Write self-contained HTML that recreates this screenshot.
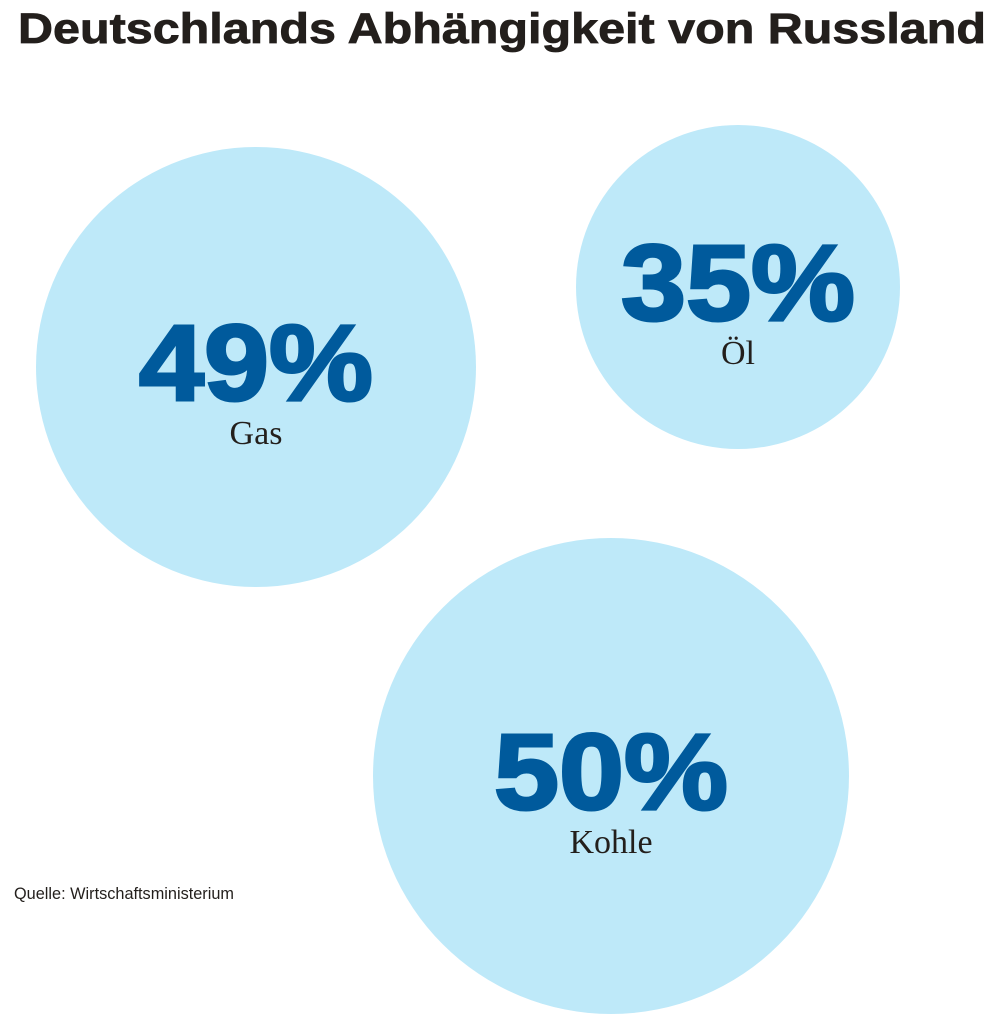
<!DOCTYPE html>
<html><head><meta charset="utf-8"><style>
html,body{margin:0;padding:0;background:#fff;width:1000px;height:1022px;overflow:hidden}
</style></head><body>
<svg width="1000" height="1022" viewBox="0 0 1000 1022" xmlns="http://www.w3.org/2000/svg">
<text x="18" y="43" font-family="Liberation Sans, sans-serif" font-weight="bold" font-size="43" fill="#231f1c" stroke="#231f1c" stroke-width="0.8" textLength="968" lengthAdjust="spacingAndGlyphs">Deutschlands Abhängigkeit von Russland</text>
<g id="bubbles"></g>
<text x="14" y="899" font-family="Liberation Sans Narrow, Liberation Sans, sans-serif" font-size="17" fill="#231f1c" textLength="220" lengthAdjust="spacingAndGlyphs">Quelle: Wirtschaftsministerium</text>
</svg>
<script>
const categories = ["Gas", "Öl", "Kohle"];
const values = [49, 35, 50];
const valueLabels = ["49%", "35%", "50%"];
const cx = [256, 738, 611];
const cy = [367, 287, 776];
const rScale = [220 / 49, 162 / 35, 238 / 50];
const ns = "http://www.w3.org/2000/svg";
const g = document.getElementById("bubbles");
categories.forEach((c, i) => {
  const r = values[i] * rScale[i];
  const circ = document.createElementNS(ns, "circle");
  circ.setAttribute("cx", cx[i]); circ.setAttribute("cy", cy[i]); circ.setAttribute("r", r);
  circ.setAttribute("fill", "#bee9f9");
  
  
  g.appendChild(circ);
  const v = document.createElementNS(ns, "text");
  v.setAttribute("x", cx[i]); v.setAttribute("y", cy[i] + 33);
  v.setAttribute("text-anchor", "middle");
  v.setAttribute("font-family", "Liberation Sans, sans-serif");
  v.setAttribute("font-weight", "bold");
  v.setAttribute("font-size", "108");
  v.setAttribute("textLength", "234");
  v.setAttribute("lengthAdjust", "spacingAndGlyphs");
  v.setAttribute("fill", "#005a9c");
  v.setAttribute("stroke", "#005a9c");
  v.setAttribute("stroke-width", "3");
  v.textContent = valueLabels[i];
  
  
  g.appendChild(v);
  const l = document.createElementNS(ns, "text");
  l.setAttribute("x", cx[i]); l.setAttribute("y", cy[i] + 77);
  l.setAttribute("text-anchor", "middle");
  l.setAttribute("font-family", "Liberation Serif, serif");
  l.setAttribute("font-size", "34");
  l.setAttribute("fill", "#231f1c");
  l.textContent = c;
  
  
  g.appendChild(l);
});
</script>
</body></html>
